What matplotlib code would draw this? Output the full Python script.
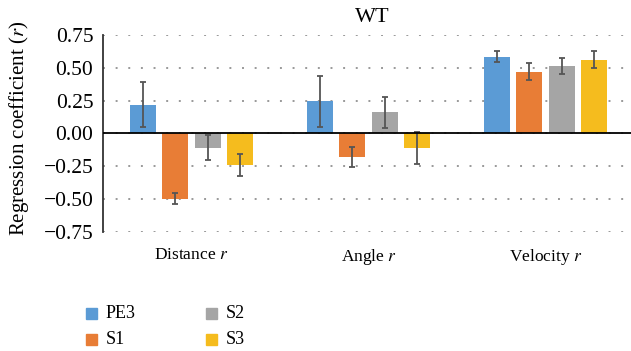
import matplotlib
matplotlib.use("Agg")
import matplotlib.pyplot as plt
import numpy as np
from matplotlib.patches import Rectangle

categories = ["Distance", "Angle", "Velocity"]
series = ["PE3", "S1", "S2", "S3"]
values = {
    "PE3": [0.22, 0.245, 0.585],
    "S1": [-0.495, -0.18, 0.47],
    "S2": [-0.11, 0.16, 0.515],
    "S3": [-0.24, -0.11, 0.56],
}
errors = {
    "PE3": [0.17, 0.195, 0.04],
    "S1": [0.04, 0.076, 0.066],
    "S2": [0.095, 0.12, 0.06],
    "S3": [0.085, 0.12, 0.065],
}
colors = ["#5B9BD5", "#E87D36", "#A5A5A5", "#F5BC1E"]
yticks = [-0.75, -0.5, -0.25, 0.0, 0.25, 0.5, 0.75]

plt.rcParams["font.family"] = ["Liberation Serif", "DejaVu Serif"]
plt.rcParams["mathtext.fontset"] = "stix"

W, H = 631, 351
fig = plt.figure(figsize=(W / 100, H / 100), dpi=100)
# axes placed in pixel terms: left 103, right 634, top 35, bottom 232
ax = fig.add_axes([103 / W, 1 - 232 / H, (634 - 103) / W, (232 - 35) / H])

x = np.arange(len(categories))
step = 0.181
width = 0.147
for i, (s, c) in enumerate(zip(series, colors)):
    pos = x + (i - 1.5) * step
    ax.bar(pos, values[s], width, color=c, zorder=3)
    ax.errorbar(pos, values[s], yerr=errors[s], fmt="none", ecolor="#555555",
                elinewidth=1.3, capsize=2.5, capthick=1.3, zorder=4)

ax.set_xlim(-0.5, 2.5)
ax.set_ylim(-0.75, 0.75)
ax.set_yticks(yticks)
ax.set_yticklabels([f"{t:.2f}".replace("-", "\u2212") for t in yticks], fontsize=15.5)
ax.yaxis.grid(True, linestyle=(0, (1, 5.5)), color="#999999", linewidth=1.4, zorder=0)
ax.axhline(0, color="black", linewidth=1.3, zorder=5)
for sp in ["top", "right", "bottom"]:
    ax.spines[sp].set_visible(False)
ax.spines["left"].set_color("#333333")
ax.spines["left"].set_linewidth(1.3)
ax.tick_params(axis="y", length=0, pad=7)
ax.set_xticks(x)
ax.set_xticklabels([f"{c} $r$" for c in categories], fontsize=12.5)
ax.tick_params(axis="x", length=0, pad=11)

fig.text(19 / W, 1 - 128 / H, "Regression coefficient ($r$)", fontsize=15,
         rotation=90, ha="center", va="center")
fig.text(372 / W, 1 - 18 / H, "WT", fontsize=16, ha="center", va="center")

# legend: two columns of colour squares with labels
leg_x = [86, 206]
leg_y = [313, 339]
for i, (s, c) in enumerate(zip(series, colors)):
    col, row = divmod(i, 2)
    px, py = leg_x[col], leg_y[row]
    fig.add_artist(Rectangle((px / W, 1 - (py + 5.5) / H), 11 / W, 11 / H,
                             transform=fig.transFigure, color=c))
    fig.text((px + 20) / W, 1 - py / H, s, fontsize=13, ha="left", va="center")

fig.savefig("out.png", dpi=100)
